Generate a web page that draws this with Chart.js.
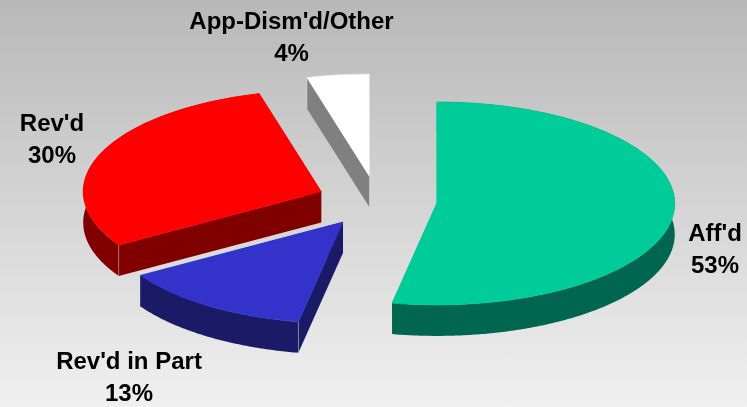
<!DOCTYPE html>
<html lang="en">
  <head>
    <meta charset="UTF-8" />
    <title>Disposition of appeals</title>
    <script src="https://cdn.jsdelivr.net/npm/chart.js@4"></script>
    <style>
      html, body { margin: 0; padding: 0; overflow: hidden; }
      #wrap {
        width: 747px;
        height: 407px;
        background: linear-gradient(#b8b8b8, #f0f0f0);
      }
      canvas { display: block; }
    </style>
  </head>
  <body>
    <div id="wrap"><canvas id="pie" width="747" height="407"></canvas></div>
    <script>
      var categories = ["Aff'd", "Rev'd in Part", "Rev'd", "App-Dism'd/Other"];
      // the labels show them rounded
      var percents = [53, 13.2, 29.6, 4.2];
      var topColors = ["#00cc99", "#3333cc", "#ff0000", "#ffffff"];
      var sideColors = ["#006650", "#1a1a66", "#800000", "#808080"];

      var squash = 0.4265; // tilt of the pie, height/width of the ellipse
      var depth = 31;
      var explode = 60;
      var pieRadius = 238;

      // label centres, x and y of the first line
      var labelSpots = [
        [715, 234],
        [129, 362],
        [52, 124],
        [291.5, 22],
      ];
      var lineGap = 32;

      // centre of a slice on screen once it is pulled out and tilted
      function sliceCentre(arc) {
        var mid = (arc.startAngle + arc.endAngle) / 2;
        return {
          x: arc.x + Math.cos(mid) * explode,
          y: arc.y + Math.sin(mid) * explode * squash,
        };
      }

      function rimPoint(c, r, angle, drop) {
        return [c.x + Math.cos(angle) * r, c.y + Math.sin(angle) * r * squash + drop];
      }

      function fillRim(ctx, c, r, start, end) {
        var steps = Math.ceil((end - start) / 0.01);
        ctx.beginPath();
        for (var i = 0; i <= steps; i++) {
          var p = rimPoint(c, r, start + ((end - start) * i) / steps, 0);
          ctx.lineTo(p[0], p[1]);
        }
        for (var j = steps; j >= 0; j--) {
          var q = rimPoint(c, r, start + ((end - start) * j) / steps, depth);
          ctx.lineTo(q[0], q[1]);
        }
        ctx.closePath();
        ctx.fill();
      }

      function fillSideFace(ctx, c, r, angle) {
        var e = rimPoint(c, r, angle, 0);
        ctx.beginPath();
        ctx.moveTo(c.x, c.y);
        ctx.lineTo(e[0], e[1]);
        ctx.lineTo(e[0], e[1] + depth);
        ctx.lineTo(c.x, c.y + depth);
        ctx.closePath();
        ctx.fill();
      }

      var tiltPlugin = {
        id: "tilt",
        beforeDatasetDraw(chart) {
          var ctx = chart.ctx;
          var arcs = chart.getDatasetMeta(0).data;

          arcs.forEach(function (arc, i) {
            var c = sliceCentre(arc);
            var r = arc.outerRadius;
            ctx.fillStyle = sideColors[i];
            fillRim(ctx, c, r, arc.startAngle, arc.endAngle);
            fillSideFace(ctx, c, r, arc.startAngle);
            fillSideFace(ctx, c, r, arc.endAngle);

            // faint seam on the wall corner
            var s = rimPoint(c, r, arc.startAngle, 0);
            ctx.strokeStyle = "rgba(255,255,255,0.3)";
            ctx.lineWidth = 1;
            ctx.beginPath();
            ctx.moveTo(s[0], s[1]);
            ctx.lineTo(s[0], s[1] + depth);
            ctx.stroke();
          });

          arcs.forEach(function (arc) {
            var c = sliceCentre(arc);
            ctx.save();
            ctx.translate(c.x - arc.x, c.y);
            ctx.scale(1, squash);
            ctx.translate(0, -arc.y);
            arc.draw(ctx);
            ctx.restore();
          });
          return false; // already drawn, skip the flat pie
        },
        afterDraw(chart) {
          var ctx = chart.ctx;
          ctx.save();
          ctx.fillStyle = "#000";
          ctx.font = "bold 24px 'Liberation Sans', Arial, sans-serif";
          ctx.textAlign = "center";
          ctx.textBaseline = "middle";
          categories.forEach(function (name, i) {
            ctx.fillText(name, labelSpots[i][0], labelSpots[i][1]);
            ctx.fillText(Math.round(percents[i]) + "%", labelSpots[i][0], labelSpots[i][1] + lineGap);
          });
          ctx.restore();
        },
      };

      new Chart(document.getElementById("pie"), {
        type: "pie",
        data: {
          labels: categories,
          datasets: [
            {
              data: percents,
              backgroundColor: topColors,
              borderColor: topColors,
              borderWidth: 1,
            },
          ],
        },
        options: {
          responsive: false,
          animation: false,
          radius: pieRadius,
          layout: { padding: { left: 7, bottom: 5 } },
          plugins: { legend: { display: false }, tooltip: { enabled: false } },
        },
        plugins: [tiltPlugin],
      });
    </script>
  </body>
</html>
